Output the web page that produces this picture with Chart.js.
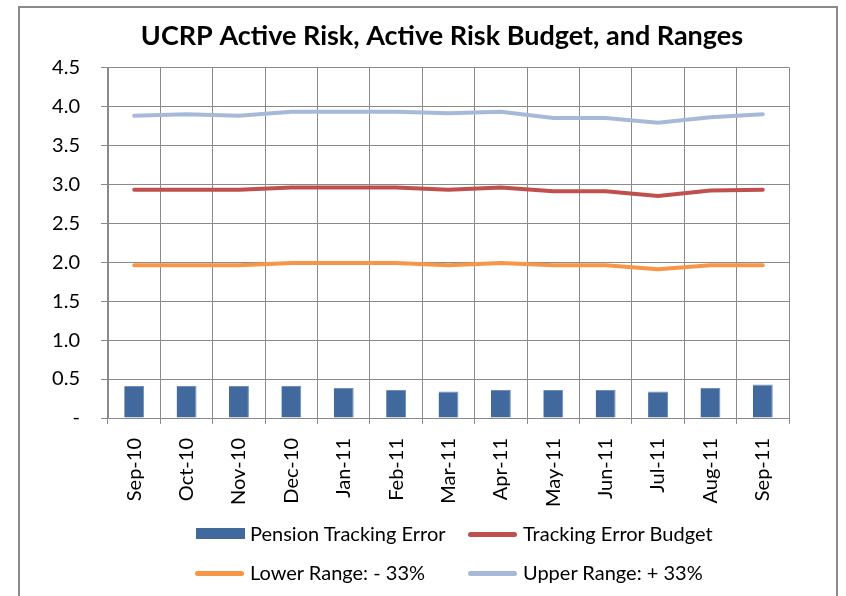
<!DOCTYPE html>
<html>
<head>
<meta charset="utf-8">
<script src="https://cdn.jsdelivr.net/npm/chart.js@4/dist/chart.umd.min.js"></script>
<style>
    html, body { margin: 0; padding: 0; background: #fff; }
    #wrap { position: relative; width: 846px; height: 596px; overflow: hidden; }
    #frame { position: absolute; left: 18px; top: 6px; width: 820px; height: 620px; border: 2px solid #8a8a8a; box-sizing: border-box; pointer-events: none; }
    .leg { position: absolute; font-family: Lato, sans-serif; font-size: 20px; color: #000; white-space: nowrap; line-height: 22px; }
    .sw { position: absolute; }
</style>
</head>
<body>
<div id="wrap">
    <canvas id="grafico" width="846" height="596"></canvas>
    <div id="frame"></div>
    <div id="leyenda"></div>
</div>
<script>
const meses = ['Sep-10', 'Oct-10', 'Nov-10', 'Dec-10', 'Jan-11', 'Feb-11', 'Mar-11',
    'Apr-11', 'May-11', 'Jun-11', 'Jul-11', 'Aug-11', 'Sep-11'];

const trackingError = [0.41, 0.41, 0.41, 0.41, 0.385, 0.36, 0.34, 0.36, 0.36, 0.36, 0.34, 0.385, 0.43];
const budget = [2.93, 2.93, 2.93, 2.96, 2.96, 2.96, 2.93, 2.96, 2.91, 2.91, 2.85, 2.92, 2.93];
const lowerRange = [1.96, 1.96, 1.96, 1.99, 1.99, 1.99, 1.96, 1.99, 1.96, 1.96, 1.91, 1.96, 1.96];
const upperRange = [3.88, 3.90, 3.88, 3.93, 3.93, 3.93, 3.91, 3.93, 3.85, 3.85, 3.79, 3.86, 3.90];

const yTicks = [0, 0.5, 1.0, 1.5, 2.0, 2.5, 3.0, 3.5, 4.0, 4.5];

const gris = '#8a8a8a';

// mueve el bloque del titulo para que quede centrado como en el original
const centrarTitulo = {
    id: 'centrarTitulo',
    afterLayout: function (chart) {
        const tb = chart.titleBlock;
        if (tb) {
            tb.left = 95;
            tb.width = tb.right - tb.left;
        }
    }
};

const ctx = document.getElementById('grafico').getContext('2d');
const chart = new Chart(ctx, {
    type: 'bar',
    data: {
        labels: meses,
        datasets: [{
            type: 'bar',
            label: 'Pension Tracking Error',
            data: trackingError,
            backgroundColor: '#41699d',
            borderColor: '#6d8fbd',
            borderWidth: { top: 1, left: 0, right: 1, bottom: 0 },
            categoryPercentage: 1,
            barPercentage: 0.38,
            order: 2
        }, {
            type: 'line',
            label: 'Tracking Error Budget',
            data: budget,
            borderColor: '#c0504d',
            borderWidth: 4,
            pointRadius: 0,
            tension: 0,
            borderCapStyle: 'round',
            order: 1
        }, {
            type: 'line',
            label: 'Lower Range: - 33%',
            data: lowerRange,
            borderColor: '#f79646',
            borderWidth: 4,
            pointRadius: 0,
            tension: 0,
            borderCapStyle: 'round',
            order: 1
        }, {
            type: 'line',
            label: 'Upper Range: + 33%',
            data: upperRange,
            borderColor: '#a7b9d8',
            borderWidth: 4,
            pointRadius: 0,
            tension: 0,
            borderCapStyle: 'round',
            order: 1
        }]
    },
    options: {
        responsive: false,
        animation: false,
        layout: { padding: { top: 12, right: 57, bottom: 0, left: 0 } },
        plugins: {
            legend: { display: false },
            tooltip: { enabled: false },
            title: {
                display: true,
                text: 'UCRP Active Risk, Active Risk Budget, and Ranges',
                color: '#000',
                font: { family: 'Lato', size: 27, weight: 'bold', lineHeight: 1.2 },
                padding: { top: 8, bottom: 15 }
            }
        },
        scales: {
            x: {
                offset: true,
                grid: { color: gris, lineWidth: 1, offset: true, tickLength: 6 },
                border: { color: gris, width: 1 },
                ticks: {
                    color: '#000',
                    font: { family: 'Lato', size: 20 },
                    minRotation: 90,
                    maxRotation: 90,
                    padding: 14,
                    autoSkip: false
                },
                afterFit: function (scale) {
                    scale.height = 178;
                }
            },
            y: {
                min: 0,
                max: 4.5,
                afterBuildTicks: function (scale) {
                    scale.ticks = yTicks.map(v => ({ value: v }));
                },
                grid: { color: gris, lineWidth: 1, tickLength: 7 },
                border: { color: gris, width: 1 },
                ticks: {
                    color: '#000',
                    font: { family: 'Lato', size: 20 },
                    padding: 21,
                    callback: function (value) {
                        return value === 0 ? '-' : value.toFixed(1);
                    }
                },
                afterFit: function (scale) {
                    scale.width = 108;
                }
            }
        }
    },
    plugins: [centrarTitulo]
});

// leyenda en dos filas, armada con los datasets del grafico
const leyenda = document.getElementById('leyenda');
const posiciones = [
    { x: 196, y: 534 }, { x: 469, y: 534 },
    { x: 196, y: 573 }, { x: 469, y: 573 }
];
chart.data.datasets.forEach(function (ds, i) {
    const p = posiciones[i];
    const sw = document.createElement('div');
    sw.className = 'sw';
    if (ds.type === 'bar') {
        sw.style.cssText = 'left:' + p.x + 'px;top:' + (p.y - 6) + 'px;width:49px;height:11px;background:' + ds.backgroundColor;
    } else {
        sw.style.cssText = 'left:' + (p.x - 1) + 'px;top:' + (p.y - 2) + 'px;width:49px;height:5px;border-radius:3px;background:' + ds.borderColor;
    }
    leyenda.appendChild(sw);
    const t = document.createElement('div');
    t.className = 'leg';
    t.style.left = (p.x + 54) + 'px';
    t.style.top = (p.y - 12) + 'px';
    t.textContent = ds.label;
    leyenda.appendChild(t);
});
</script>
</body>
</html>
